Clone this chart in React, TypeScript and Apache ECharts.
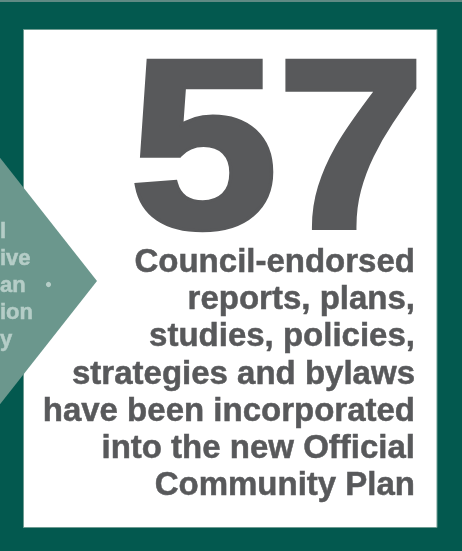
import React, { useEffect, useRef } from "react";
import * as echarts from "echarts";

const bigNumber = "57";
const descriptionLines = [
  "Council-endorsed",
  "reports, plans,",
  "studies, policies,",
  "strategies and bylaws",
  "have been incorporated",
  "into the new Official",
  "Community Plan",
];
const sideFragments = ["l", "ive", "an", "ion", "y"];

const W = 462;
const H = 551;
const GREEN = "#03594f";
const DIAMOND = "#6b978d";
const SIDE_TEXT = "#b5cdc7";
const GRAY = "#58595b";
const FONT = "'Liberation Sans', Arial, sans-serif";

export default function App() {
  const ref = useRef<HTMLDivElement>(null);
  useEffect(() => {
    if (!ref.current) return;
    const chart = echarts.init(ref.current, undefined, { renderer: "svg" });
    const graphics: any[] = [];
    graphics.push({ type: "rect", shape: { x: 0, y: 0, width: W, height: H }, style: { fill: GREEN } });
    graphics.push({ type: "rect", shape: { x: 0, y: 0, width: W, height: 2 }, style: { fill: "#5f8a84" } });
    graphics.push({
      type: "rect",
      shape: { x: 23.5, y: 29.5, width: 413.5, height: 498 },
      style: { fill: "#ffffff", stroke: "#6f9c92", lineWidth: 1 },
    });
    const s = 1.27;
    graphics.push({
      type: "polygon",
      shape: {
        points: [
          [97, 281],
          [97 - 160, 281 - 160 * s],
          [97 - 320, 281],
          [97 - 160, 281 + 160 * s],
        ],
      },
      style: { fill: DIAMOND },
    });
    const sfs = 22;
    sideFragments.forEach((t, i) => {
      const baseline = 238 + i * 27;
      graphics.push({
        type: "text",
        x: 0,
        y: baseline - 0.3465 * sfs,
        style: {
          text: t,
          fill: SIDE_TEXT,
          stroke: SIDE_TEXT,
          lineWidth: 0.5,
          font: `bold ${sfs}px ${FONT}`,
          align: "left",
          verticalAlign: "middle",
        },
      });
    });
    graphics.push({ type: "circle", shape: { cx: 48.5, cy: 284.5, r: 2.6 }, style: { fill: SIDE_TEXT } });

    const bigSize = 240;
    const sx = 1.104;
    const sw = 6;
    graphics.push({
      type: "text",
      x: 136 + sw / 2 - 0.034 * bigSize * sx,
      y: 230 - sw / 2 - 0.3465 * bigSize,
      scaleX: sx,
      style: {
        text: bigNumber,
        fill: GRAY,
        stroke: GRAY,
        lineWidth: sw,
        lineJoin: "miter",
        font: `bold ${bigSize}px ${FONT}`,
        align: "left",
        verticalAlign: "middle",
      },
    });

    const fs = 33;
    descriptionLines.forEach((t, i) => {
      const baseline = 272 + i * 37.2;
      graphics.push({
        type: "text",
        x: 415,
        y: baseline - 0.3465 * fs,
        style: {
          text: t,
          fill: GRAY,
          stroke: GRAY,
          lineWidth: 0.5,
          font: `bold ${fs}px ${FONT}`,
          align: "right",
          verticalAlign: "middle",
        },
      });
    });

    chart.setOption({ animation: false, graphic: { elements: graphics } });
    return () => chart.dispose();
  }, []);
  return <div ref={ref} style={{ position: "fixed", left: 0, top: 0, width: W, height: H }} />;
}
